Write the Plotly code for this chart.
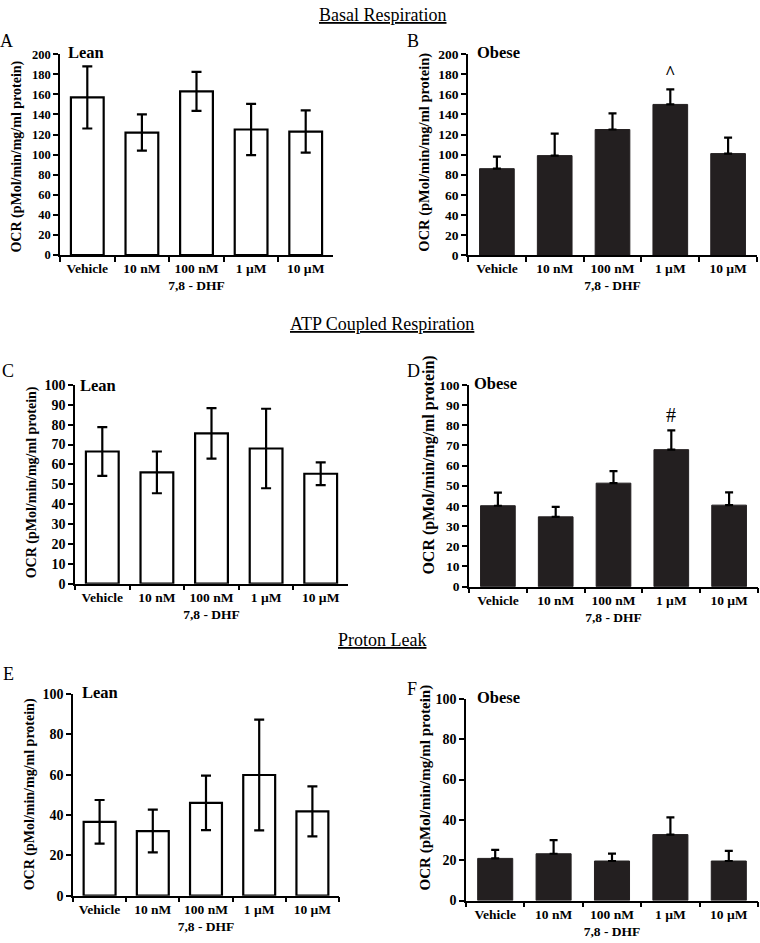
import plotly.graph_objects as go

W, H = 760, 943

categories = ["Vehicle", "10 nM", "100 nM<br>7,8 - DHF", "1 µM", "10 µM"]

basal_lean = [157, 122, 163, 125, 123]
basal_lean_err = [31, 18, 19.5, 25.5, 21]
basal_obese = [86, 99, 125, 150, 101]
basal_obese_err = [12, 22, 16, 15, 16]

atp_lean = [66.5, 56, 75.6, 68, 55.3]
atp_lean_err = [12.3, 10.5, 12.7, 20, 5.7]
atp_obese = [40.1, 34.6, 51.3, 67.9, 40.4]
atp_obese_err = [6.5, 4.9, 6.0, 9.6, 6.3]

leak_lean = [36.6, 32, 46, 59.8, 41.8]
leak_lean_err = [10.8, 10.6, 13.5, 27.4, 12.4]
leak_obese = [20.9, 23.2, 19.6, 32.7, 19.6]
leak_obese_err = [4.2, 6.8, 3.7, 8.5, 5.0]

section_titles = ["Basal Respiration", "ATP Coupled Respiration", "Proton Leak"]
panel_letters = ["A", "B", "C", "D", "E", "F"]
group_labels = ["Lean", "Obese", "Lean", "Obese", "Lean", "Obese"]
y_title = "OCR (pMol/min/mg/ml protein)"

FONT = "Liberation Serif"
BAR_DARK = "#231f20"

panels = [
    dict(v=basal_lean, e=basal_lean_err, lean=True, box=(60, 333, 48, 252), ymax=200, dtick=20,
         letter=(7, 35), ytit=(17, 152, 14), tickfs=12.5, grp=(66, 46)),
    dict(v=basal_obese, e=basal_obese_err, lean=False, box=(468, 757, 48, 252), ymax=200, dtick=20,
         letter=(413, 35), ytit=(425, 148, 14.5), tickfs=13.5, grp=(475, 46)),
    dict(v=atp_lean, e=atp_lean_err, lean=True, box=(75, 348, 384, 586), ymax=100, dtick=10,
         letter=(8, 370), ytit=(32, 483, 14), tickfs=14, grp=(78, 385)),
    dict(v=atp_obese, e=atp_obese_err, lean=False, box=(469, 758, 384, 589), ymax=100, dtick=10,
         letter=(413, 370), ytit=(429, 466, 16), tickfs=13.5, grp=(472, 383)),
    dict(v=leak_lean, e=leak_lean_err, lean=True, box=(73, 339, 698, 903), ymax=100, dtick=20,
         letter=(8, 678), ytit=(30, 800, 14), tickfs=14, grp=(80, 697)),
    dict(v=leak_obese, e=leak_obese_err, lean=False, box=(466, 758, 703, 908), ymax=100, dtick=20,
         letter=(412, 693), ytit=(425, 793, 15), tickfs=14, grp=(475, 702)),
]

fig = go.Figure()
layout = {}
annotations = []

for i, p in enumerate(panels):
    n = "" if i == 0 else str(i + 1)
    xa, ya = "x" + n, "y" + n
    l, r, t, b = p["box"]
    if p["lean"]:
        marker = dict(color="white", line=dict(color="black", width=2.2))
        err = dict(type="data", array=p["e"], symmetric=True, color="black", thickness=2.2, width=5)
    else:
        marker = dict(color=BAR_DARK, line=dict(color=BAR_DARK, width=1))
        err = dict(type="data", array=p["e"], arrayminus=[0] * len(p["e"]), symmetric=False,
                   color="black", thickness=2.2, width=4)
    fig.add_trace(go.Bar(x=categories, y=p["v"], xaxis=xa, yaxis=ya, width=0.6,
                         marker=marker, error_y=err, showlegend=False))
    layout["xaxis" + n] = dict(
        domain=[l / W, r / W], anchor=ya, type="category", range=[-0.5, 4.5],
        tickson="boundaries", ticks="outside", ticklen=5, tickwidth=1.5, tickcolor="black",
        showline=True, linecolor="black", linewidth=1.5, showgrid=False, tickangle=0,
        tickfont=dict(family=FONT, size=13.5, color="black", weight="bold"),
    )
    layout["yaxis" + n] = dict(
        domain=[1 - b / H, 1 - t / H], anchor=xa, range=[0, p["ymax"]], dtick=p["dtick"],
        ticks="outside", ticklen=5, tickwidth=1.5, tickcolor="black",
        showline=True, linecolor="black", linewidth=1.5, showgrid=False, zeroline=False,
        tickfont=dict(family=FONT, size=p["tickfs"], color="black", weight="bold"),
    )
    lx, ly = p["letter"]
    annotations.append(dict(text=panel_letters[i], x=lx / W, y=1 - ly / H, xref="paper", yref="paper",
                            showarrow=False, xanchor="center", yanchor="middle",
                            font=dict(family=FONT, size=18, color="black")))
    tx, ty, tfs = p["ytit"]
    annotations.append(dict(text="<b>" + y_title + "</b>", x=tx / W, y=1 - ty / H, xref="paper", yref="paper",
                            showarrow=False, textangle=-90, xanchor="center", yanchor="middle",
                            font=dict(family=FONT, size=tfs, color="black")))
    gx, gy = p["grp"]
    annotations.append(dict(text="<b>" + group_labels[i] + "</b>", x=gx / W, y=1 - gy / H,
                            xref="paper", yref="paper", showarrow=False, xanchor="left", yanchor="middle",
                            font=dict(family=FONT, size=16.5, color="black")))

# significance marks
annotations.append(dict(text="<b>^</b>", x=categories[3], y=basal_obese[3] + basal_obese_err[3] + 4,
                        xref="x2", yref="y2", showarrow=False, yanchor="bottom",
                        font=dict(family=FONT, size=18, color="black")))
annotations.append(dict(text="#", x=categories[3], y=atp_obese[3] + atp_obese_err[3] + 1,
                        xref="x4", yref="y4", showarrow=False, yanchor="bottom",
                        font=dict(family=FONT, size=20, color="black")))

# section titles
for txt, yy in zip(section_titles, [8, 322, 643]):
    annotations.append(dict(text="<u>" + txt + "</u>", x=382 / W, y=1 - yy / H, xref="paper", yref="paper",
                            showarrow=False, xanchor="center", yanchor="middle",
                            font=dict(family=FONT, size=18, color="black")))

fig.update_layout(**layout)
fig.update_layout(
    width=W, height=H, margin=dict(l=0, r=0, t=0, b=0),
    paper_bgcolor="white", plot_bgcolor="white",
    annotations=annotations, bargap=0.4,
    font=dict(family=FONT, color="black"),
)

fig.write_html(
    "out.html",
    config={"displayModeBar": False},
    post_script="document.body.style.margin='0px';document.body.style.padding='0px';"
                "document.documentElement.style.overflow='hidden';",
)
